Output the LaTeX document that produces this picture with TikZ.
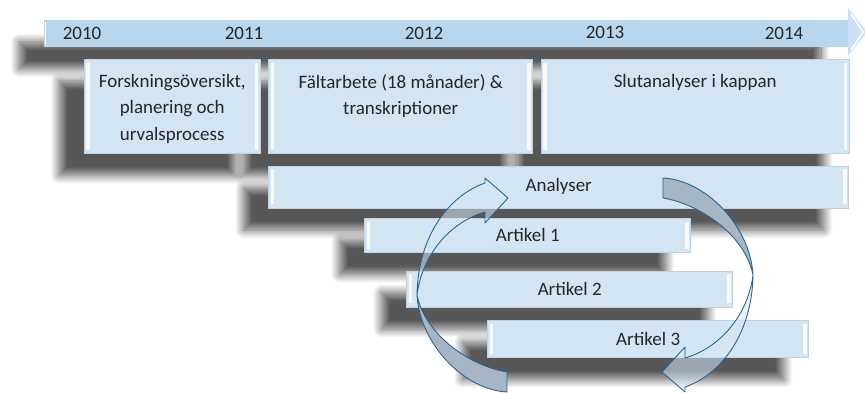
\documentclass[tikz,border=0pt]{standalone}
\usepackage{fontspec}
\setmainfont{Carlito}
\usetikzlibrary{positioning}
\usetikzlibrary{shadows.blur}

\pgfdeclarelayer{background}
\pgfsetlayers{background,main}

\definecolor{bandblue}{RGB}{184,214,238}
\definecolor{boxblue}{RGB}{211,228,242}
\definecolor{boxedge}{RGB}{192,209,224}
\definecolor{ringedge}{RGB}{38,100,150}
\definecolor{ringback}{RGB}{166,182,196}
\definecolor{ringfront}{RGB}{214,230,244}
\definecolor{inktext}{RGB}{38,38,38}

\tikzset{
	dropshadow/.style={blur shadow={shadow xshift=-0.5cm, shadow yshift=-0.44cm, shadow blur radius=0.17cm, shadow blur steps=14, shadow opacity=66, shadow blur extra rounding=0pt}},
	bevel/.style={path picture={
		\fill[white, opacity=0.85] ([shift={(1.2pt,-2pt)}]path picture bounding box.north west) rectangle ([shift={(3pt,2pt)}]path picture bounding box.south west);
		\fill[white, opacity=0.85] ([shift={(-1.2pt,-2pt)}]path picture bounding box.north east) rectangle ([shift={(-3pt,2pt)}]path picture bounding box.south east);
	}},
	phase/.style={bevel, fill=boxblue, draw=boxedge, line width=0.3pt, inner sep=0pt, text=inktext, font=\fontsize{10.8}{15}\selectfont},
	phasetext/.style={align=center, text=inktext, inner sep=0pt, font=\fontsize{10.8}{15}\selectfont},
	year/.style={text=inktext, inner sep=0pt, font=\fontsize{10.8}{15}\selectfont},
	ringline/.style={draw=ringedge, line width=0.5pt, line join=round},
}

% one half of the analysis cycle (the left one)
\newcommand{\ringarrow}{%
	\filldraw[ringline, fill=ringback] (417,295) .. controls (420,345) and (465,390) .. (507,392)
		-- (507,372) .. controls (470,366) and (425,335) .. (417,295) -- cycle;
	\filldraw[ringline, fill=ringfront, fill opacity=0.55] (485,183) .. controls (450,195) and (418,235) .. (417,295)
		.. controls (422,255) and (450,222) .. (485,212) -- (485,223) -- (508,198) -- (485,178) -- cycle;
}

\begin{document}
\begin{tikzpicture}[x=0.02cm, y=-0.02cm]
	\useasboundingbox (0,0) rectangle (865,392);
	
	% time line
	\begin{pgfonlayer}{background}
		\path[dropshadow] (44,20) rectangle (846,47);
	\end{pgfonlayer}
	\fill[bandblue] (44,20) -- (848,20) -- (848,47) -- (44,47) -- cycle;
	\fill[bandblue!75!white] (848,20) -- (848,8) -- (867,32) -- (848,56) -- (848,47) -- cycle;
	\draw[white, line width=1pt] (45.5,22) -- (45.5,45);
	\draw[white, line width=0.8pt] (851,14) -- (863,32) -- (851,50);
	
	\node[year] (y10) at (82,33) {2010};
	\node[year] (y11) at (244,33) {2011};
	\node[year] (y12) at (424,33) {2012};
	\node[year] (y13) at (605,32) {2013};
	\node[year] (y14) at (784,33) {2014};
	
	% phases
	\node[phase, anchor=north west, minimum width=3.52cm, minimum height=1.88cm] (fors) at (84,59) {};
	\node[phase, right=0.16cm of fors, minimum width=5.28cm, minimum height=1.88cm] (falt) {};
	\node[phase, right=0.16cm of falt, minimum width=6.16cm, minimum height=1.88cm] (slut) {};
	
	\node[phasetext, below=0.3cm of fors.north] (forstext) {Forskningsöversikt,\\planering och\\urvalsprocess};
	\node[phasetext, below=0.3cm of falt.north] (falttext) {Fältarbete (18 månader) \&\\transkriptioner};
	\node[phasetext, below=0.3cm of slut.north] (sluttext) {Slutanalyser i kappan};
	
	% analyses and articles
	\node[phase, below=0.24cm of falt.south west, anchor=north west, minimum width=11.6cm, minimum height=0.84cm] (ana) {Analyser};
	\node[phase, below=0.2cm of ana.south west, anchor=north west, xshift=1.92cm, minimum width=6.52cm, minimum height=0.68cm] (art1) {Artikel 1};
	\node[phase, below=0.36cm of art1.south west, anchor=north west, xshift=0.84cm, minimum width=6.52cm, minimum height=0.72cm] (art2) {Artikel 2};
	\node[phase, below=0.26cm of art2.south west, anchor=north west, xshift=1.62cm, minimum width=6.42cm, minimum height=0.74cm] (art3) {Artikel 3};
	
	\begin{pgfonlayer}{background}
		\foreach \n in {fors,falt,slut,ana,art1,art2,art3}
			\path[dropshadow] (\n.north west) rectangle (\n.south east);
	\end{pgfonlayer}
	
	% cycle
	\ringarrow
	\begin{scope}[rotate around={180:(585,285)}]
		\ringarrow
	\end{scope}
\end{tikzpicture}
\end{document}
